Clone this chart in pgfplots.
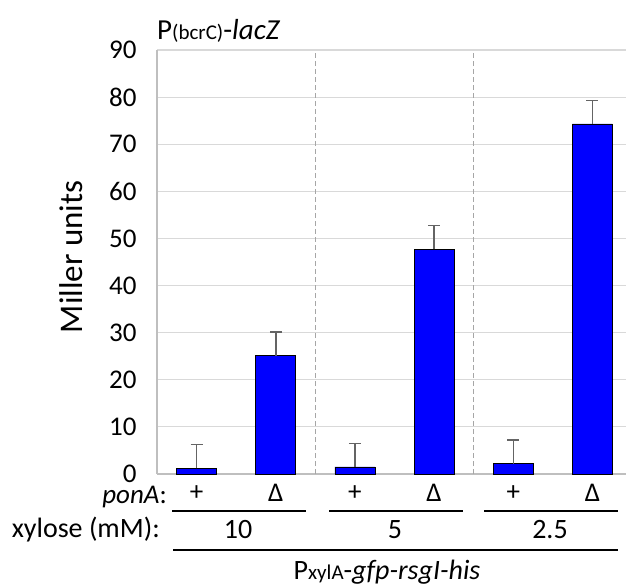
\documentclass[border=0pt]{standalone}
\usepackage{pgfplots}
\pgfplotsset{compat=1.18}
\usepackage{fontspec}
\setmainfont{Carlito}
\definecolor{barblue}{RGB}{0,0,255}
\definecolor{errgray}{RGB}{100,100,100}
\definecolor{gridgray}{RGB}{217,217,217}
\definecolor{axisgray}{RGB}{191,191,191}
\definecolor{sepgray}{RGB}{166,166,166}
\newcommand{\fs}[1]{\fontsize{#1}{#1}\selectfont}

\pgfplotstableread{
x  y    err
0  1.2  5.1
1  25.1 5.0
2  1.5  5.0
3  47.7 5.0
4  2.2  5.0
5  74.3 5.0
}\millerdata

\begin{document}
\begin{tikzpicture}[x=1pt,y=1pt]
\useasboundingbox (0,0) rectangle (626,587);
\begin{axis}[
    at={(157pt,113pt)}, anchor=south west,
    scale only axis,
    width=475pt, height=424pt,
    xmin=-0.5, xmax=5.5,
    ymin=0, ymax=90,
    ytick={0,10,...,90},
    xtick={0,...,5},
    xticklabels={+,Δ,+,Δ,+,Δ},
    axis lines*=left,
    axis line style={axisgray, line width=1.2pt},
    major tick length=0pt,
    ymajorgrids,
    grid style={gridgray, line width=1.2pt},
    /pgf/number format/assume math mode=true,
    yticklabel style={font=\fs{27}, anchor=east, xshift=-17pt},
    xticklabel style={font=\fs{27}, anchor=center, yshift=-19pt},
    ylabel={Miller units},
    ylabel style={font=\fs{33}, at={(rel axis cs:-0.181,0.512)}, anchor=center},
]
\draw[sepgray, line width=1.5pt, dash pattern=on 5pt off 3pt] (axis cs:1.5,0) -- (axis cs:1.5,90);
\draw[sepgray, line width=1.5pt, dash pattern=on 5pt off 3pt] (axis cs:3.5,0) -- (axis cs:3.5,90);
\addplot[
    ybar, bar width=40pt,
    fill=barblue, draw=black, line width=0.8pt,
    error bars/.cd,
        y dir=plus, y explicit,
        error bar style={errgray, line width=1.5pt},
        error mark options={errgray, rotate=90, mark size=6pt, line width=1.5pt},
] table[x=x, y=y, y error=err] {\millerdata};
\end{axis}

% title
\node[anchor=base west, inner sep=0pt] at (157,547)
    {\fs{29}P{\fs{21}(bcrC)}-\textit{lacZ}};

% bottom annotation
\node[anchor=east, inner sep=0pt] at (167,90) {\fs{27}\textit{ponA}:};
\draw[black, line width=1.2pt] (172,76) -- (306,76);
\draw[black, line width=1.2pt] (329,76) -- (463,76);
\draw[black, line width=1.2pt] (484,76) -- (618,76);
\node[anchor=east, inner sep=0pt] at (160,57) {\fs{28}xylose (mM):};
\node[inner sep=0pt] at (238,57) {\fs{28}10};
\node[inner sep=0pt] at (395,57) {\fs{28}5};
\node[inner sep=0pt] at (550,57) {\fs{28}2.5};
\draw[black, line width=1.2pt] (173,37) -- (618,37);
\node[inner sep=0pt] at (387,15) {\fs{28}P{\fs{21}xylA}-\textit{gfp-rsgI-his}};
\end{tikzpicture}
\end{document}
